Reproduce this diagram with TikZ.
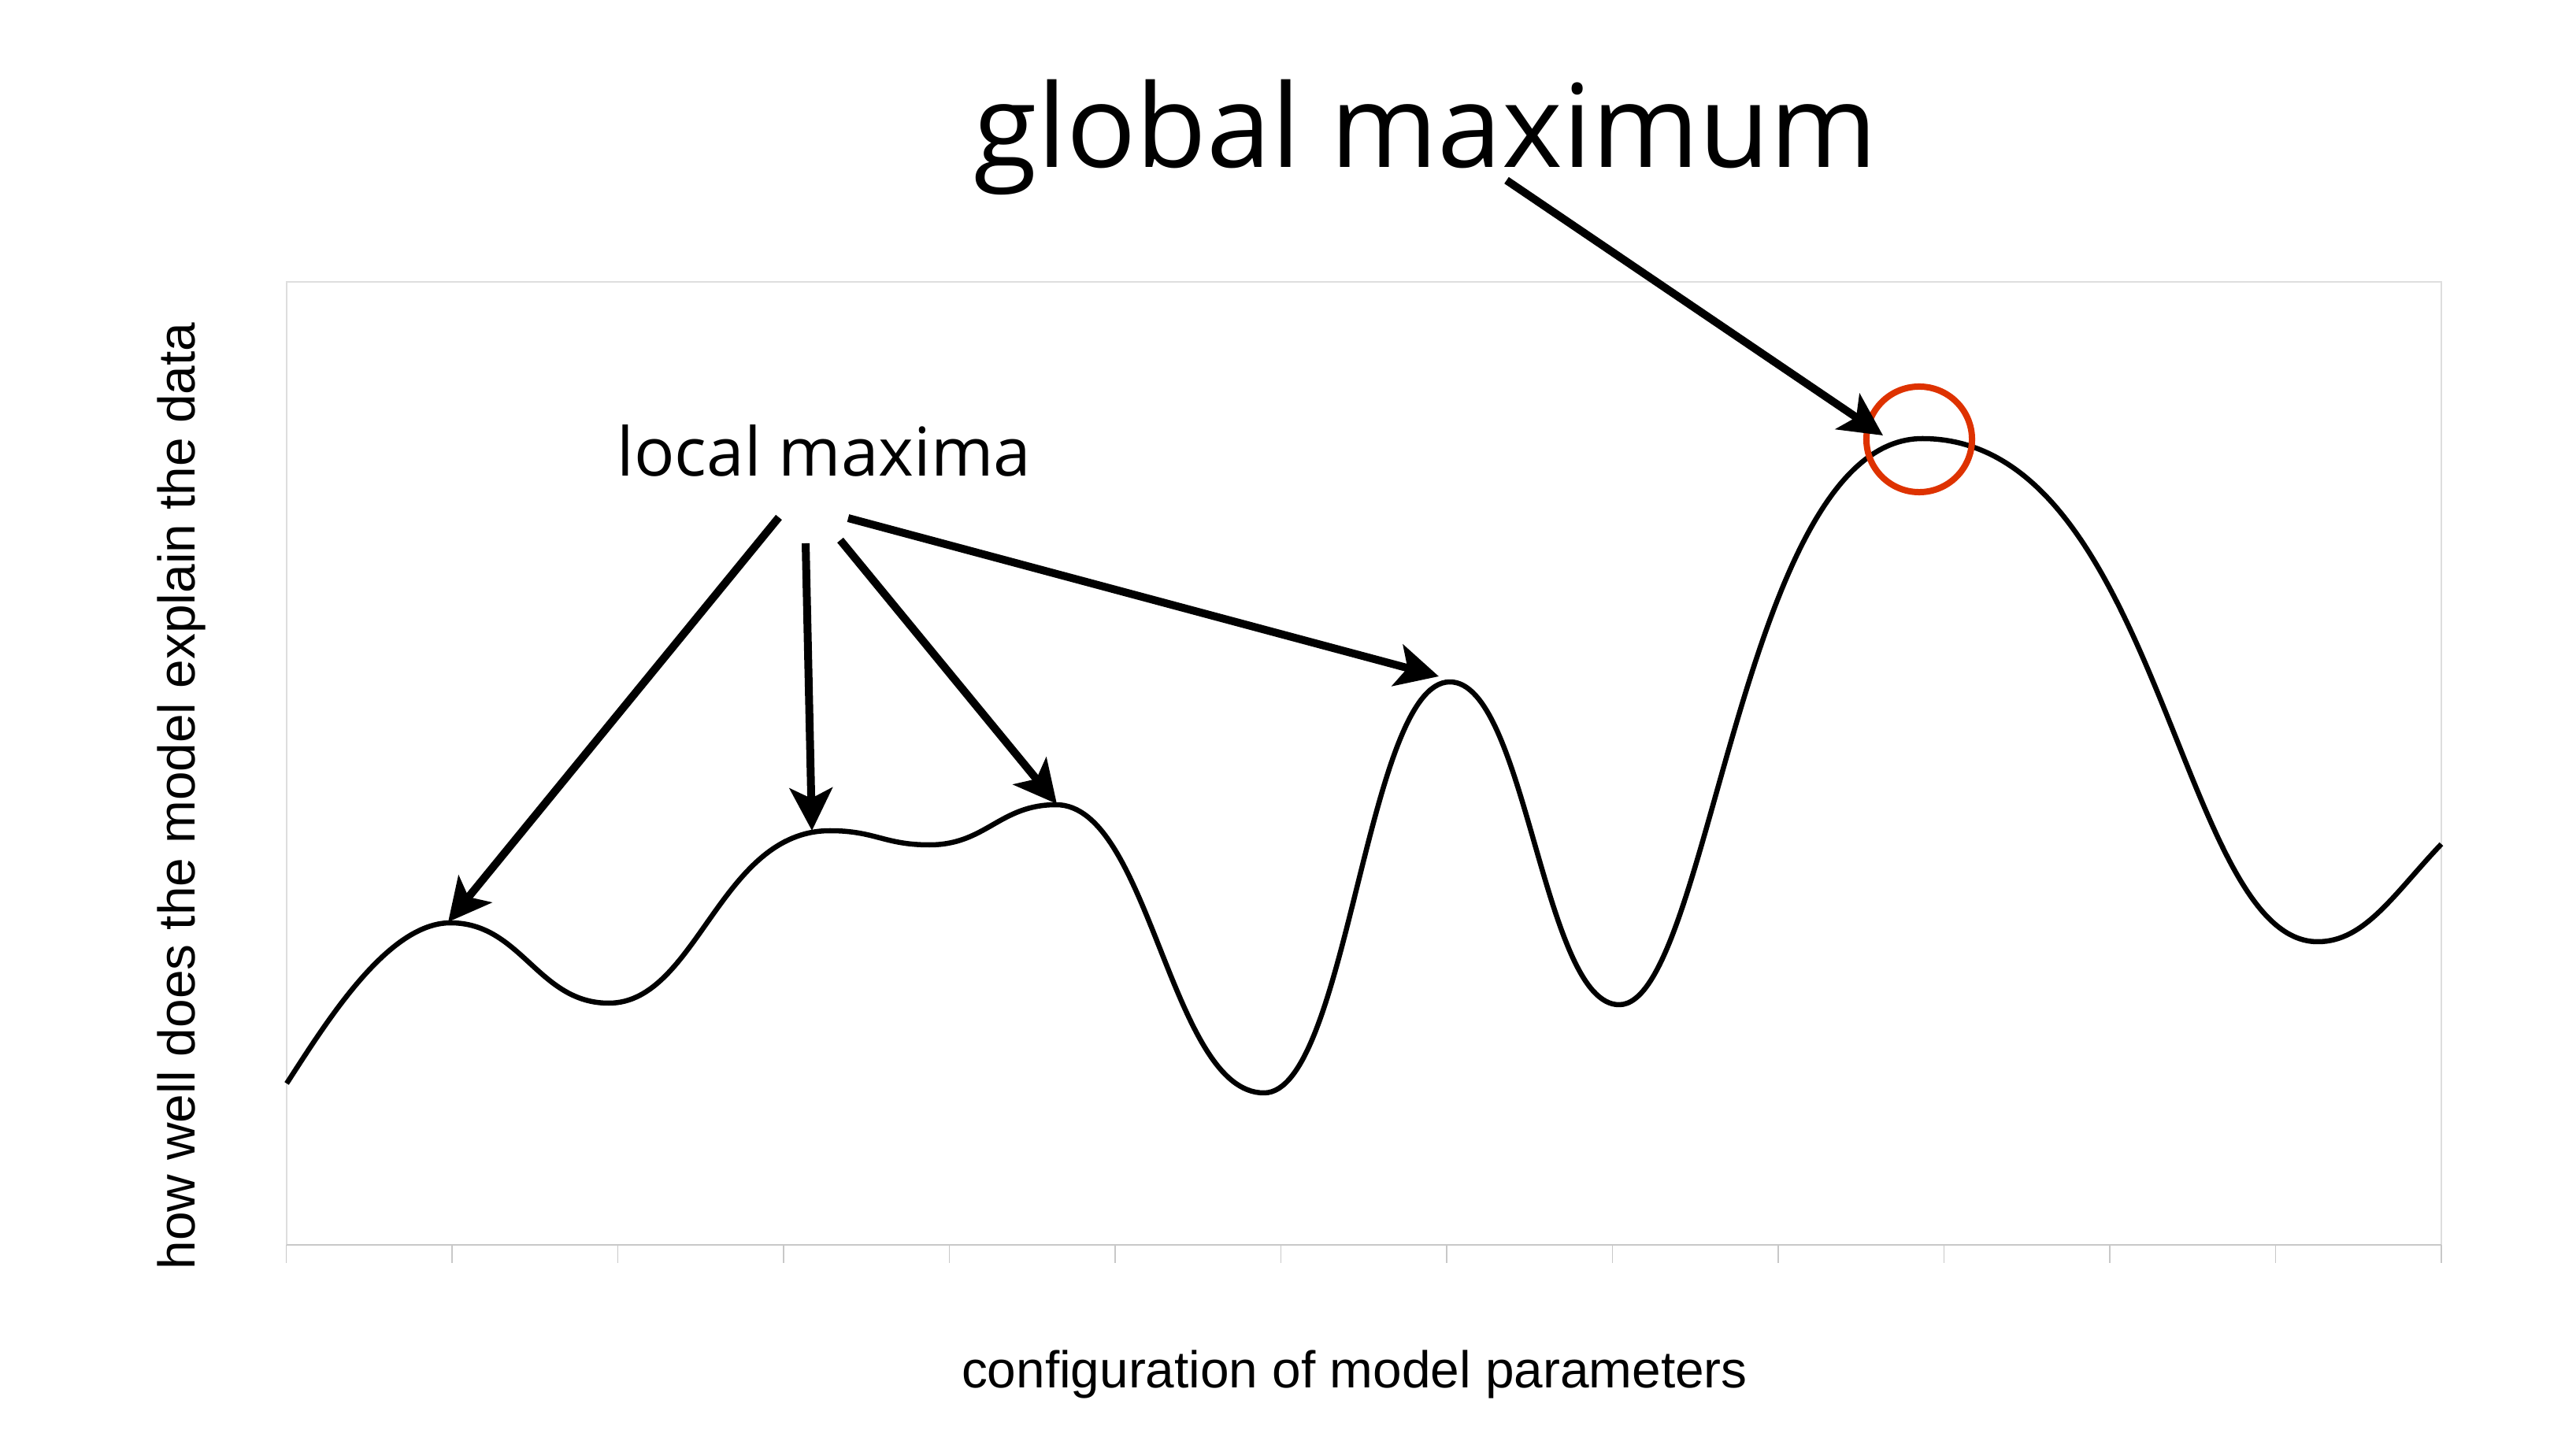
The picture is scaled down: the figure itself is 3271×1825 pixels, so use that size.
\documentclass[tikz,border=0pt]{standalone}
\usepackage{fontspec}
\usepackage{tikz}
\usetikzlibrary{arrows.meta, positioning}
\newfontfamily\labelfont{Open Sans}
\newfontfamily\axisfont{Liberation Sans}
\definecolor{peakred}{RGB}{222, 50, 0}
\definecolor{frame1}{RGB}{222, 222, 222}
\definecolor{axis1}{RGB}{200, 200, 200}

\begin{document}
\begin{tikzpicture}[
  x=0.01cm, y=-0.01cm,
  lbl/.style={inner sep=0pt, font=\labelfont\fontsize{#1}{#1}\selectfont},
  axlbl/.style={inner sep=0pt, font=\axisfont\fontsize{18.7}{20}\selectfont},
  arr/.style={-{Stealth[length=0.54cm, width=0.54cm, inset=0.13cm]}, line width=0.1cm, black},
  curve/.style={line width=0.065cm, black, line join=round},
]
  \useasboundingbox (0,0) rectangle (3271,1825);

  % plot frame and ticks
  \draw[frame1, line width=0.02cm] (363.5,1581) -- (363.5,358) -- (3100,358) -- (3100,1581);
  \draw[axis1, line width=0.025cm] (363.5,1581) -- (3100,1581);
  \foreach \i in {0,...,13}
    \draw[axis1, line width=0.015cm] ({363.5+210.5*\i},1581) -- ++(0,23);

  % axis labels
  \node[axlbl, anchor=base] (xlab) at (1720,1762) {configuration of model parameters};
  \node[axlbl, anchor=base, rotate=90] (ylab) at (247,1011) {how well does the model explain the data};

  % the landscape, one bezier per hill side
  \draw[curve] (364,1376)
    .. controls (414,1299) and (492,1172) .. (572,1172)
    .. controls (662,1172) and (683,1274) .. (773,1274)
    .. controls (885,1274) and (914,1055) .. (1054,1055)
    .. controls (1111,1055) and (1123,1073) .. (1180,1073)
    .. controls (1252,1073) and (1269,1022) .. (1341,1022)
    .. controls (1460,1022) and (1486,1388) .. (1605,1388)
    .. controls (1711,1388) and (1735,866) .. (1841,866)
    .. controls (1938,866) and (1959,1276) .. (2056,1276)
    .. controls (2171,1276) and (2211,557) .. (2441,557)
    .. controls (2741,557) and (2767,1196) .. (2943,1196)
    .. controls (3003,1196) and (3040,1135) .. (3100,1072);

  % peaks
  \coordinate (pk1) at (569,1171);
  \coordinate (pk2) at (1031,1055);
  \coordinate (pk3) at (1342,1021);
  \coordinate (pk4) at (1827,859);
  \coordinate (pk5) at (2391,553);
  \node[draw=peakred, line width=0.08cm, circle, minimum size=1.34cm, inner sep=0pt] (gmax) at (2437,558) {};

  % labels
  \node[lbl=41.7, anchor=base west] (glob) at (1236,213) {global maximum};
  \node[lbl=24.3, anchor=base west] (loc) at (783,605) {local maxima};

  \coordinate (s1) at (989,657);
  \coordinate (s2) at (1023,690);
  \coordinate (s3) at (1067,686);
  \coordinate (s4) at (1077,658);
  \coordinate (sg) at (1913,229);

  \draw[arr] (s1) -- (pk1);
  \draw[arr] (s2) -- (pk2);
  \draw[arr] (s3) -- (pk3);
  \draw[arr] (s4) -- (pk4);
  \draw[arr] (sg) -- (pk5);
\end{tikzpicture}
\end{document}
